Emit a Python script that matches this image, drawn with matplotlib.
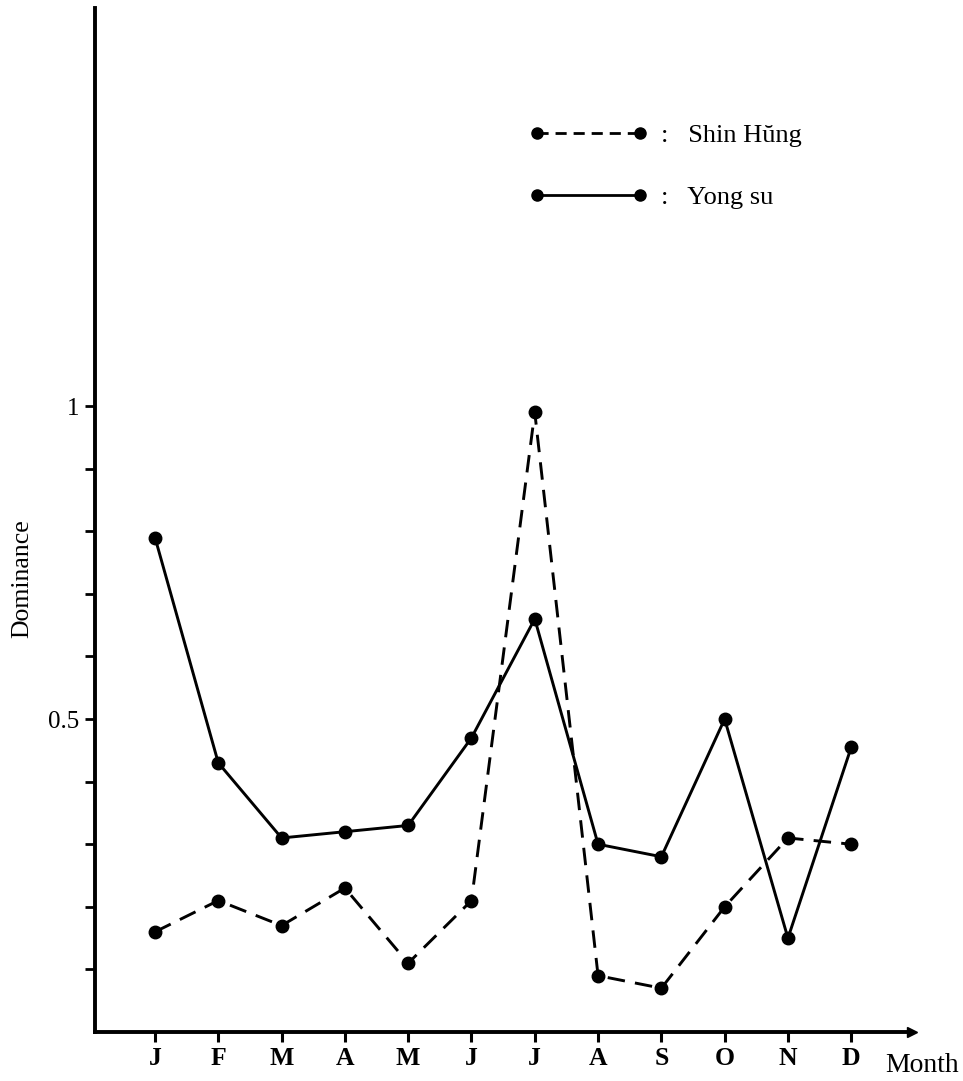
import matplotlib
matplotlib.use("Agg")
import matplotlib.pyplot as plt
from matplotlib.lines import Line2D

months = ["J", "F", "M", "A", "M", "J", "J", "A", "S", "O", "N", "D"]
shin_hung = [0.16, 0.21, 0.17, 0.23, 0.11, 0.21, 0.99, 0.09, 0.07, 0.20, 0.31, 0.30]
yong_su = [0.79, 0.43, 0.31, 0.32, 0.33, 0.47, 0.66, 0.30, 0.28, 0.50, 0.15, 0.455]
y_ticks = [0.1, 0.2, 0.3, 0.4, 0.5, 0.6, 0.7, 0.8, 0.9, 1.0]
y_labels = ["", "", "", "", "0.5", "", "", "", "", "1"]

plt.rcParams['font.family'] = ['Liberation Serif', 'DejaVu Serif']

fig = plt.figure(figsize=(9.63, 10.81), dpi=100)
ax = fig.add_axes([95/963, 49/1081, (912-95)/963, (1032-8)/1081])

x = list(range(len(months)))
ax.plot(x, shin_hung, color='black', lw=2.1, dashes=(6, 3.5),
        marker='o', markersize=9, label=': Shin Hŭng')
ax.plot(x, yong_su, color='black', lw=2.1, ls='-',
        marker='o', markersize=9, label=': Yong su')

ax.set_xlim(-0.948, 11.96)
ax.set_ylim(0, 1.636)

for s in ['top', 'right']:
    ax.spines[s].set_visible(False)
for s in ['left', 'bottom']:
    ax.spines[s].set_linewidth(2.8)

ax.set_yticks(y_ticks)
ax.set_yticklabels(y_labels, fontsize=18)
ax.set_xticks(x)
ax.set_xticklabels(months, fontsize=18.5, fontweight='bold')
ax.tick_params(axis='y', direction='out', length=7, width=2, pad=4)
ax.tick_params(axis='x', direction='out', length=7, width=2.2, pad=4)

# arrow head at the end of the x axis
ax.plot([1.0], [0.0], marker='>', color='black', markersize=7,
        transform=ax.transAxes, clip_on=False)

fig.text(22/963, 1 - 579/1081, 'Dominance', rotation=90, fontsize=18.5,
         ha='center', va='center')
fig.text(922/963, 1 - 1065/1081, 'Month', fontsize=20, ha='center', va='center')

handles = [
    Line2D([0], [0], color='black', lw=2.0, dashes=(4, 2.5), marker='o', markersize=8),
    Line2D([0], [0], color='black', lw=2.0, ls='-', marker='o', markersize=8),
]
leg = fig.legend(handles, [':   Shin Hŭng', ':   Yong su'], loc='upper left',
                 bbox_to_anchor=(529/963, 1 - 124/1081), frameon=False,
                 numpoints=2, handlelength=4.5, handletextpad=0.5,
                 labelspacing=1.45, borderpad=0, borderaxespad=0, fontsize=19)

fig.savefig('out.png', dpi=100)
